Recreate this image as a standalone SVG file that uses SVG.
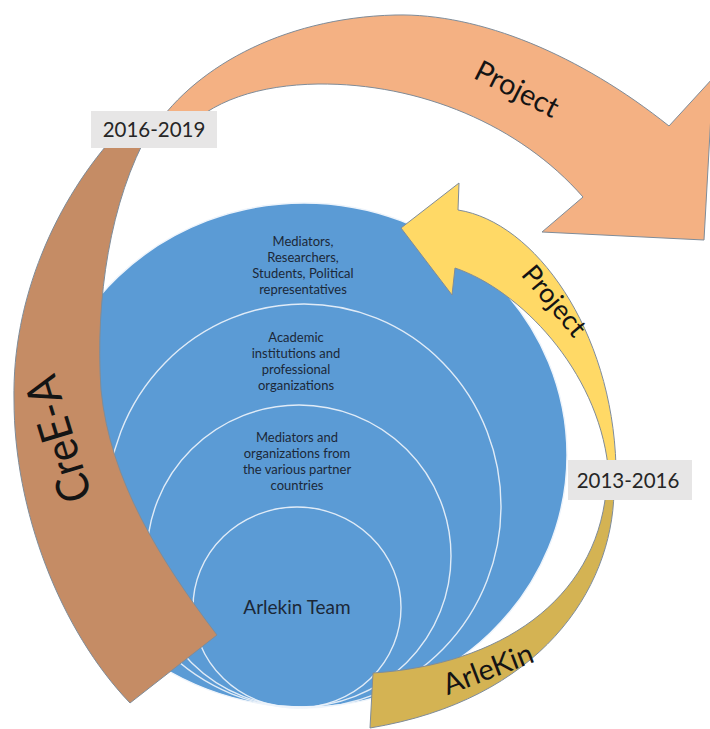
<svg xmlns="http://www.w3.org/2000/svg" width="710" height="729" viewBox="0 0 710 729">
<style>
.ring{fill:none;stroke:#eef4fb;stroke-width:1.4;stroke-opacity:0.9}
.bt{font-family:Lato,"Open Sans",sans-serif;font-size:13px;fill:#1b2838;text-anchor:middle}
.arr{stroke:#7f8c99;stroke-width:1}
.al{font-family:Lato,"Open Sans",sans-serif;fill:#141414;text-anchor:middle}
.box{fill:#e7e6e6}
.bl{font-family:Lato,"Open Sans",sans-serif;font-size:20.5px;fill:#262626;text-anchor:middle}
</style>
<rect width="710" height="729" fill="#ffffff"/>
<g id="circles">
  <g id="outer-ring">
    <ellipse cx="304" cy="455" rx="263" ry="252" fill="#5b9bd5" stroke="#eef4fb" stroke-width="1.4"/>
    <text class="bt" x="303" y="246">Mediators,</text>
    <text class="bt" x="303" y="262">Researchers,</text>
    <text class="bt" x="303" y="278">Students, Political</text>
    <text class="bt" x="303" y="294">representatives</text>
  </g>
  <g id="ring-2">
    <ellipse class="ring" cx="304" cy="506" rx="197" ry="202"/>
    <text class="bt" x="296" y="342">Academic</text>
    <text class="bt" x="296" y="358">institutions and</text>
    <text class="bt" x="296" y="374">professional</text>
    <text class="bt" x="296" y="390">organizations</text>
  </g>
  <g id="ring-3">
    <ellipse class="ring" cx="299" cy="556" rx="152" ry="151"/>
    <text class="bt" x="297" y="442">Mediators and</text>
    <text class="bt" x="297" y="458">organizations from</text>
    <text class="bt" x="297" y="474">the various partner</text>
    <text class="bt" x="297" y="490">countries</text>
  </g>
  <g id="arlekin-team">
    <ellipse class="ring" cx="297" cy="607.5" rx="104" ry="100.5"/>
    <text class="bt" x="297" y="614" style="font-size:19px">Arlekin Team</text>
  </g>
</g>
<g id="connectors">
  <g id="arrow-project-2016">
    <path class="arr" fill="#f4b183" d="M 150,135 C 190,70 280,18 395,15 C 480,13 580,55 669,126 L 713,78 L 704,240 L 542,232 L 583,197 C 520,125 420,83 318,84 C 260,85 210,100 180,135 Z"/>
    <text class="al" style="font-size:29px" transform="translate(517,89) rotate(27)" dy="10">Project</text>
  </g>
  <g id="arrow-creea">
    <path class="arr" fill="#c58c65" d="M 120,130 C 55,200 12,300 14,400 C 14,510 60,630 130,703 L 217,635 C 160,560 110,480 101,390 C 95,300 110,200 150,130 Z"/>
    <text class="al" style="font-size:45px" transform="translate(59,439) rotate(-107)" dy="15" textLength="130" lengthAdjust="spacingAndGlyphs">CreE-A</text>
  </g>
  <g id="arrow-project-2013">
    <path class="arr" fill="#ffd966" d="M 401,228 L 459,183 L 458,210 C 535,222 612,330 616,466 L 608,466 C 597,370 520,290 455,268 L 452,295 Z"/>
    <text class="al" style="font-size:27px" transform="translate(554,301) rotate(50)" dy="9">Project</text>
  </g>
  <g id="arrow-arlekin">
    <path class="arr" fill="#d4b353" d="M 606,492 L 614,492 C 612,590 540,700 370,728 L 373,673 C 500,665 595,600 606,492 Z"/>
    <text class="al" style="font-size:29px" transform="translate(488,669) rotate(-21)" dy="10">ArleKin</text>
  </g>
</g>
<g id="label-2016-2019">
  <rect class="box" x="91" y="111" width="126" height="37"/>
  <text class="bl" x="154" y="137">2016-2019</text>
</g>
<g id="label-2013-2016">
  <rect class="box" x="568" y="460" width="124" height="40"/>
  <text class="bl" x="628" y="488">2013-2016</text>
</g>
</svg>
